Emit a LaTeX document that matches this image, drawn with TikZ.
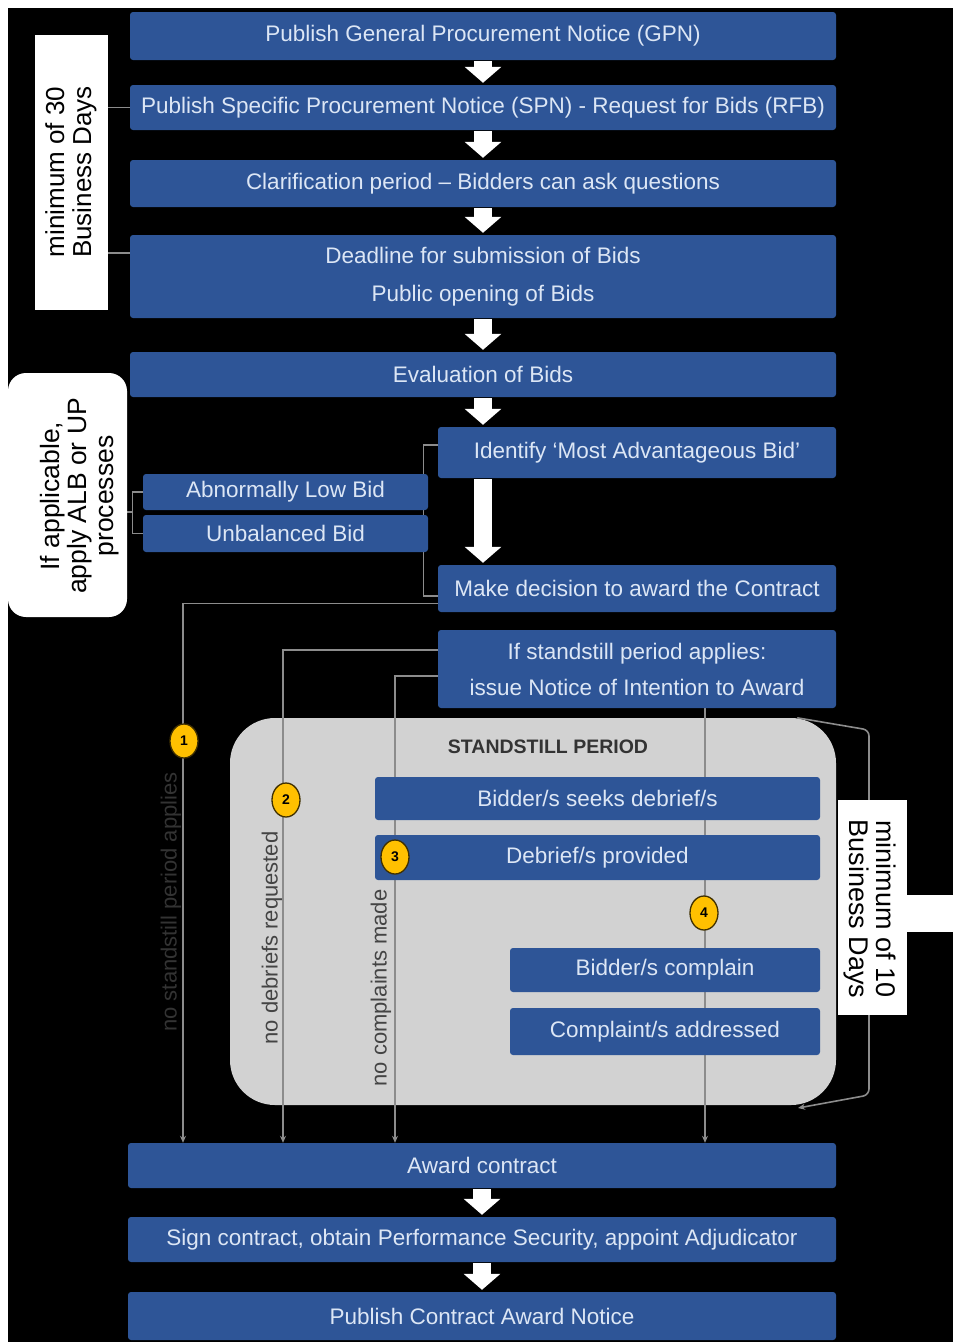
\documentclass[tikz,border=0pt]{standalone}
\usepackage{fontspec}
\setmainfont{Liberation Sans}
\usetikzlibrary{fit,arrows.meta,shapes.geometric}
\definecolor{boxblue}{HTML}{2E5597}
\definecolor{boxtext}{HTML}{DCE6F5}
\definecolor{stillgray}{HTML}{D2D2D2}
\definecolor{linegray}{HTML}{8C8C8C}
\definecolor{badgey}{HTML}{FFC000}
\definecolor{labdark}{HTML}{333333}
\definecolor{labgray}{HTML}{444444}
\pgfdeclarelayer{back}
\pgfdeclarelayer{lines}
\pgfsetlayers{back,lines,main}
\newcommand{\flowbox}[7][]{\node[box,#1,minimum width={(#4)-(#2)}, minimum height={(#5)-(#3)}] (#6) at ({((#2)+(#4))/2},{((#3)+(#5))/2}) {#7};}
\begin{document}
\begin{tikzpicture}[x=1pt,y=-1pt,
  box/.style={fill=boxblue, rounded corners=3pt, inner sep=0pt, text=boxtext,
    font=\fontsize{22.5}{27}\selectfont, align=center},
  wbox/.style={fill=white, inner sep=0pt},
  wtext/.style={inner sep=0pt, align=center, text=black, font=\fontsize{26}{27}\selectfont},
  blk/.style={white, line width=18pt, -{Triangle[length=16pt,width=36pt]}, shorten >=2pt, shorten <=1pt},
  conn/.style={linegray, line width=1.6pt},
  connarr/.style={conn, -{Stealth[length=7pt,width=6pt]}},
  badge/.style={ellipse, fill=badgey, draw=black!75!badgey, line width=1.3pt, minimum width=28pt,
    minimum height=34pt, inner sep=0pt, font=\bfseries\fontsize{14}{14}\selectfont},
  lbl/.style={rotate=90, font=\fontsize{22}{26}\selectfont, inner sep=0pt}
]
\useasboundingbox (0,0) rectangle (953,1342);
\begin{pgfonlayer}{back}
\fill[white] (0,0) rectangle (953,1342);
\fill[black] (8,8) rectangle (953,1342);
\node[fill=stillgray, rounded corners=45pt, inner sep=0pt, fit={(230,718)(836,1105)}] (still) {};
\end{pgfonlayer}

% main flow boxes
\flowbox{130}{12}{836}{60}{gpn}{Publish General Procurement Notice (GPN)}
\flowbox{130}{85}{836}{130}{spn}{Publish Specific Procurement Notice (SPN) - Request for Bids (RFB)}
\flowbox{130}{160}{836}{207}{clar}{Clarification period – Bidders can ask questions}
\flowbox[font=\fontsize{22.5}{38}\selectfont]{130}{235}{836}{318}{dead}{Deadline for submission of Bids\\Public opening of Bids}
\flowbox{130}{352}{836}{397}{eval}{Evaluation of Bids}
\flowbox{438}{427}{836}{478}{ident}{Identify ‘Most Advantageous Bid’}
\flowbox{143}{474}{428}{510}{alb}{Abnormally Low Bid}
\flowbox{143}{515}{428}{552}{ub}{Unbalanced Bid}
\flowbox{438}{565}{836}{612}{make}{Make decision to award the Contract}
\flowbox[font=\fontsize{22.5}{36}\selectfont]{438}{630}{836}{708}{std}{If standstill period applies:\\issue Notice of Intention to Award}
\flowbox{375}{777}{820}{820}{seek}{Bidder/s seeks debrief/s}
\flowbox{375}{835}{820}{880}{prov}{Debrief/s provided}
\flowbox{510}{948}{820}{992}{compl}{Bidder/s complain}
\flowbox{510}{1008}{820}{1055}{addr}{Complaint/s addressed}
\flowbox{128}{1143}{836}{1188}{award}{Award contract}
\flowbox{128}{1217}{836}{1262}{sign}{Sign contract, obtain Performance Security, appoint Adjudicator}
\flowbox{128}{1292}{836}{1340}{pcan}{Publish Contract Award Notice}

% side boxes
\node[wbox, fit={(35,35)(108,310)}] (min30) {};
\node[wtext, rotate=90] (min30t) at (71,172) {minimum of 30\\Business Days};
\node[wbox, rounded corners=18pt, fit={(8,373)(127,617)}] (ifapp) {};
\node[wtext, rotate=90, font=\fontsize{26.5}{27}\selectfont] (ifappt) at (80,496) {If applicable,\\apply ALB or UP\\processes};
\node[wbox, fit={(838,800)(907,1015)}] (min10) {};
\node[wbox, fit={(906,895)(953,932)}] (wbar) {};
\node[wtext, rotate=-90, font=\fontsize{27}{27}\selectfont] (min10t) at (870,909) {minimum of 10\\Business Days};

\node[font=\bfseries\fontsize{19.5}{20}\selectfont, text=labdark, inner sep=0pt] (sttl) at (548,747) {STANDSTILL PERIOD};

% connectors
\coordinate (x1) at (183,0);
\coordinate (x2) at (283,0);
\coordinate (x3) at (395,0);
\coordinate (x4) at (705,0);
\coordinate (rb1) at (869,730);
\coordinate (rb2) at (869,1095);
\coordinate (rbend) at (798,1108);
\coordinate (tick) at (133,512);
\begin{pgfonlayer}{lines}
\draw[connarr] ([yshift=-15pt]make.west) -| (x1 |- award.north);
\draw[connarr] ([yshift=19pt]std.west) -| (x2 |- award.north);
\draw[connarr] ([yshift=-7pt]std.west) -| (x3 |- award.north);
\draw[connarr] (x4 |- std.south) -- (x4 |- award.north);
\draw[conn, line width=1.3pt] ([yshift=7.5pt]ident.west) -- ++(-14,0) |- ([yshift=-7.5pt]make.west);
\draw[conn, line width=1.3pt] (alb.west) -- ++(-10,0) |- (ub.west);
\draw[conn, line width=1.3pt] (tick) -- (ifapp.east |- tick);
\draw[conn, line width=1.3pt] (min30.east |- spn.west) -- (spn.west);
\draw[conn, line width=1.3pt] (min30.east |- 0,253) -- (dead.west |- 0,253);
\draw[connarr, rounded corners=6pt] ([xshift=-39pt]still.north east) -- (rb1) -- (rb2) -- (rbend);
\end{pgfonlayer}

% labels on connectors
\node[lbl, text=labdark] (l1) at (171,902) {no standstill period applies};
\node[lbl, text=labgray] (l2) at (272,938) {no debriefs requested};
\node[lbl, text=labgray] (l3) at (381,988) {no complaints made};

% badges
\node[badge] (b1) at (184,741) {1};
\node[badge] (b2) at (286,800) {2};
\node[badge] (b3) at (395,857) {3};
\node[badge] (b4) at (704,913) {4};

% block arrows
\draw[blk] (gpn.south) -- (spn.north);
\draw[blk] (spn.south) -- (clar.north);
\draw[blk] (clar.south) -- (dead.north);
\draw[blk] (dead.south) -- (eval.north);
\draw[blk] (eval.south) -- (eval.south |- ident.north);
\draw[blk] (eval.south |- ident.south) -- (eval.south |- make.north);
\draw[blk] (award.south) -- (sign.north);
\draw[blk] (sign.south) -- (pcan.north);
\end{tikzpicture}
\end{document}
